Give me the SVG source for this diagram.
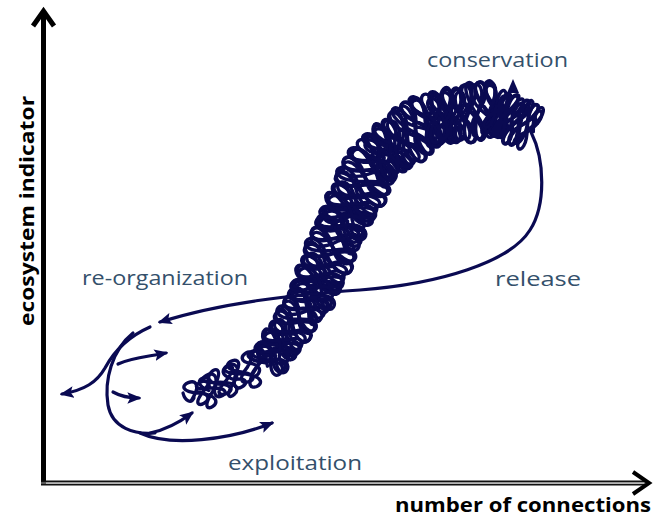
<svg xmlns="http://www.w3.org/2000/svg" xmlns:xlink="http://www.w3.org/1999/xlink" width="657" height="526" viewBox="0 0 657 526">
<style>
.axis{fill:none;stroke:#000;stroke-width:5;stroke-linejoin:miter;stroke-linecap:butt}
.scr{fill:none;stroke:#0a0a52;stroke-width:3.4;vector-effect:non-scaling-stroke;stroke-linejoin:round;stroke-linecap:round}
.ln{fill:none;stroke:#0a0a52;stroke-width:3.2;stroke-linecap:round}
.lbl{font-family:"Open Sans","Liberation Sans",sans-serif;font-size:20px;fill:#34506b}
.ax{font-family:"Open Sans","Liberation Sans",sans-serif;font-size:19px;font-weight:bold;fill:#000}
</style>
<defs>
<marker id="ah" viewBox="0 0 12 10" refX="10" refY="5" markerWidth="14" markerHeight="12" markerUnits="userSpaceOnUse" orient="auto">
<path d="M0,0 L12,5 L0,10 L2.5,5 z" fill="#0a0a52"/>
</marker>
<path id="pA" class="scr" d="M-4,2 c30,-26 -22,-30 6,-3 c28,28 -24,30 7,4 c22,-30 -28,-22 6,-6 c30,22 -18,34 8,5 c26,-32 -26,-28 5,1 c32,18 -20,28 8,-4 c20,-34 -30,-18 7,6 c28,26 -26,24 6,-7 c30,-24 -20,-34 8,5 c22,30 -30,20 6,-6 c28,-22 -24,-30 7,4 c30,28 -22,26 6,-3 c24,-28 -26,-26 7,3"/>
<path id="pB" class="scr" d="M-2,-4 c26,30 -26,26 5,5 c34,-20 -14,-34 7,2 c16,-28 -32,-20 3,-2 c34,24 -16,30 8,-3 c28,-34 -28,-20 7,8 c20,26 -32,14 4,-4 c36,-22 -16,-30 8,4 c32,18 -22,30 7,-9 c24,-24 -28,-28 6,6 c26,30 -28,18 7,-4 c32,-30 -18,-26 6,-2 c20,28 -30,26 8,6 c30,-26 -22,-30 7,-3"/>
<path id="pC" class="scr" d="M-4,4 c34,-26 -26,-28 10,-3 c34,26 -22,30 13,5 c30,-30 -30,-24 11,-6 c36,22 -22,32 14,6 c28,-28 -32,-26 12,-2 c34,28 -24,26 13,0 c30,-26 -26,-30 12,0"/>
</defs>

<g id="axes">
<line class="axis" x1="43.5" y1="12" x2="43.5" y2="485"/>
<polyline class="axis" points="33,26 43.5,11 54,26"/>
<line x1="41" y1="481.5" x2="647" y2="481.5" stroke="#111" stroke-width="1.8"/>
<line x1="41" y1="484.6" x2="647" y2="484.6" stroke="#111" stroke-width="1.6"/>
<line x1="41" y1="483" x2="647" y2="483" stroke="#aaa" stroke-width="1"/>
<polyline points="633,472 649,483 633,494" fill="none" stroke="#000" stroke-width="4"/>
<text class="ax" transform="translate(33.5,326) rotate(-90)" textLength="230" lengthAdjust="spacingAndGlyphs">ecosystem indicator</text>
<text class="ax" x="395" y="512" textLength="256" lengthAdjust="spacingAndGlyphs">number of connections</text>
</g>

<g id="scribble">
<path class="ln" d="M183,393 C185,401 191,404 194,398"/>
<use xlink:href="#pC" transform="translate(194,395) rotate(-26) scale(0.98,0.82)"/>
<use xlink:href="#pB" transform="translate(200,393) rotate(-28) scale(0.9,0.62)"/>
<use xlink:href="#pA" transform="translate(268,362) rotate(-56) scale(0.94,0.95)"/>
<use xlink:href="#pB" transform="translate(268,362) rotate(-56) scale(0.94,0.95)"/>
<use xlink:href="#pA" transform="translate(268,362) rotate(-56) scale(0.94,-0.9) translate(4,0)"/>
<use xlink:href="#pA" transform="translate(310,300) rotate(-67) scale(0.98,1.15)"/>
<use xlink:href="#pB" transform="translate(310,300) rotate(-67) scale(0.98,1.15)"/>
<use xlink:href="#pA" transform="translate(310,300) rotate(-67) scale(0.98,-1.1) translate(4,0)"/>
<use xlink:href="#pA" transform="translate(340,228) rotate(-63) scale(0.95,1.25)"/>
<use xlink:href="#pB" transform="translate(340,228) rotate(-63) scale(0.95,1.25)"/>
<use xlink:href="#pA" transform="translate(340,228) rotate(-63) scale(0.95,-1.2) translate(4,0)"/>
<use xlink:href="#pA" transform="translate(375,160) rotate(-37) scale(0.86,1.3)"/>
<use xlink:href="#pB" transform="translate(375,160) rotate(-37) scale(0.86,1.3)"/>
<use xlink:href="#pA" transform="translate(375,160) rotate(-37) scale(0.86,-1.25) translate(4,0)"/>
<use xlink:href="#pA" transform="translate(430,119) rotate(-9) scale(0.83,1.3)"/>
<use xlink:href="#pB" transform="translate(430,119) rotate(-9) scale(0.83,1.3)"/>
<use xlink:href="#pA" transform="translate(430,119) rotate(-9) scale(0.83,-1.25) translate(4,0)"/>
<use xlink:href="#pA" transform="translate(495,110) rotate(28) scale(0.53,1.1)"/>
<use xlink:href="#pB" transform="translate(495,110) rotate(28) scale(0.53,1.1)"/>
<polygon points="513,79 507,93 519,93" fill="#0a0a52"/>
<polygon points="539,125 529,119 535,111" fill="#0a0a52"/>
</g>

<g id="connectors">
<path class="ln" d="M531,132 C545,160 546,205 530,230 C510,262 440,284 360,290 C290,295 220,303 160,322" marker-end="url(#ah)"/>
<path class="ln" d="M150,327 C125,338 112,355 105,368 C97,382 85,390 62,394" marker-end="url(#ah)"/>
<path class="ln" d="M133,333 C112,350 104,380 108,405 C112,428 135,435 155,433"/>
<path class="ln" d="M150,433 C165,430 180,422 192,413" marker-end="url(#ah)"/>
<path class="ln" d="M140,433 C170,447 230,440 272,423" marker-end="url(#ah)"/>
<path class="ln" d="M118,364 C130,358 145,357 166,353" marker-end="url(#ah)"/>
<path class="ln" d="M113,392 C120,396 128,398 139,398" marker-end="url(#ah)"/>
</g>

<g id="labels">
<text class="lbl" x="427" y="67" textLength="141" lengthAdjust="spacingAndGlyphs">conservation</text>
<text class="lbl" x="82" y="285" textLength="166" lengthAdjust="spacingAndGlyphs">re-organization</text>
<text class="lbl" x="495" y="286" textLength="86" lengthAdjust="spacingAndGlyphs">release</text>
<text class="lbl" x="228" y="470" textLength="134" lengthAdjust="spacingAndGlyphs">exploitation</text>
</g>
</svg>
